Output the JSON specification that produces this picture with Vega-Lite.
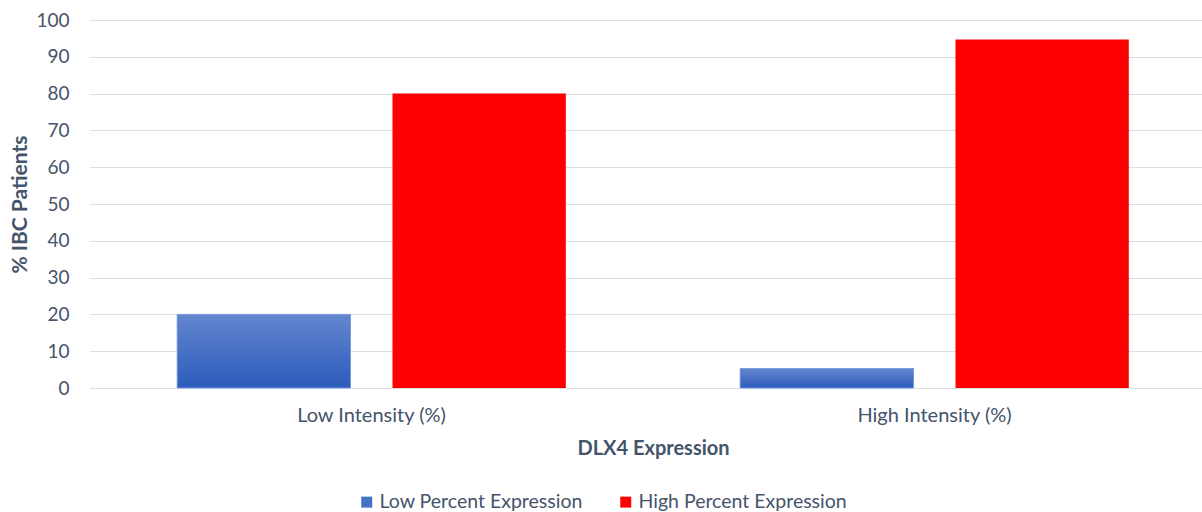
{
  "$schema": "https://vega.github.io/schema/vega-lite/v6.json",
  "autosize": {"type": "none"},
  "padding": {"left": 90, "top": 20, "right": 0, "bottom": 124},
  "width": 1126,
  "height": 368,
  "background": "white",
  "config": {
    "font": "Lato",
    "view": {"stroke": null},
    "axis": {"labelColor": "#44546A", "titleColor": "#44546A", "labelFontSize": 18, "titleFontSize": 18, "labelFont": "Lato", "titleFont": "Lato"}
  },
  "data": {
    "values": [
      {"intensity": "Low Intensity (%)", "series": "Low Percent Expression", "value": 20},
      {"intensity": "Low Intensity (%)", "series": "High Percent Expression", "value": 80},
      {"intensity": "High Intensity (%)", "series": "Low Percent Expression", "value": 5.3},
      {"intensity": "High Intensity (%)", "series": "High Percent Expression", "value": 94.7}
    ]
  },
  "encoding": {
    "x": {
      "field": "intensity", "type": "nominal",
      "sort": ["Low Intensity (%)", "High Intensity (%)"],
      "scale": {"paddingInner": 0, "paddingOuter": 0},
      "axis": {"title": "DLX4 Expression", "labelAngle": 0, "ticks": false, "domain": true, "domainColor": "#D9DEE6", "labelPadding": 17, "labelFontSize": 20, "titlePadding": 13, "titleFontWeight": "bold", "titleFontSize": 20}
    },
    "xOffset": {
      "field": "series", "type": "nominal",
      "sort": ["Low Percent Expression", "High Percent Expression"],
      "scale": {"paddingInner": 0.195, "paddingOuter": 0.405}
    },
    "y": {
      "field": "value", "type": "quantitative",
      "scale": {"domain": [0, 100]},
      "axis": {"title": "% IBC Patients", "values": [0,10,20,30,40,50,60,70,80,90,100], "domain": false, "ticks": false, "grid": true, "gridColor": "#D9DEE6", "gridWidth": 1.2, "labelPadding": 21, "labelFontSize": 19, "titlePadding": 5, "titleFontWeight": "bold", "titleFontSize": 21}
    }
  },
  "layer": [
    {
      "mark": {"type": "bar"},
      "encoding": {
        "color": {
          "field": "series", "type": "nominal",
          "sort": ["Low Percent Expression", "High Percent Expression"],
          "scale": {"domain": ["Low Percent Expression", "High Percent Expression"], "range": ["#4472C4", "#FF0000"]},
          "legend": {"title": null, "orient": "none", "direction": "horizontal", "legendX": 267, "legendY": 472, "symbolType": "square", "symbolSize": 121, "labelFontSize": 19.5, "labelLimit": 400, "labelColor": "#44546A", "columnPadding": 33, "labelOffset": 3, "symbolOpacity": 1, "symbolStrokeWidth": 0}
        }
      }
    },
    {
      "transform": [{"filter": "datum.series === 'Low Percent Expression'"}],
      "mark": {
        "type": "bar",
        "stroke": "#7A9AD8",
        "strokeWidth": 1,
        "color": {"gradient": "linear", "x1": 0, "y1": 0, "x2": 0, "y2": 1, "stops": [{"offset": 0, "color": "#6486CF"}, {"offset": 1, "color": "#2C5CBC"}]}
      }
    }
  ]
}
